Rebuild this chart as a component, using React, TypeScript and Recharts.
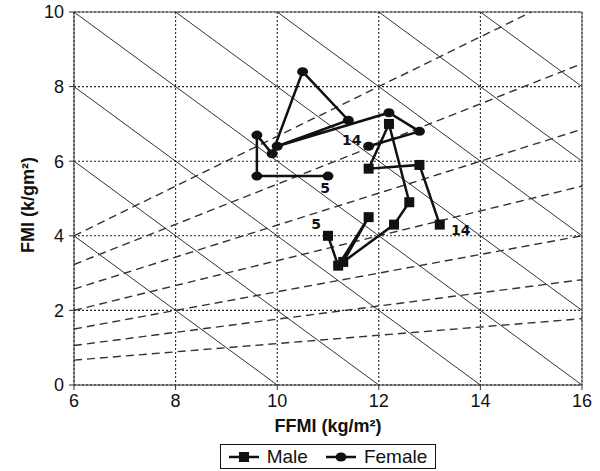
import {
  ScatterChart,
  Scatter,
  XAxis,
  YAxis,
  CartesianGrid,
  ReferenceLine,
} from "recharts";

// ages 5..14, one point per year
const ages = [5, 6, 7, 8, 9, 10, 11, 12, 13, 14];
const maleFFMI = [11.0, 11.2, 11.8, 11.3, 12.3, 12.6, 12.2, 11.8, 12.8, 13.2];
const maleFMI = [4.0, 3.2, 4.5, 3.3, 4.3, 4.9, 7.0, 5.8, 5.9, 4.3];
const femaleFFMI = [11.0, 9.6, 9.6, 9.9, 10.5, 11.4, 10.0, 12.2, 12.8, 11.8];
const femaleFMI = [5.6, 5.6, 6.7, 6.2, 8.4, 7.1, 6.4, 7.3, 6.8, 6.4];

const xTicks = [6, 8, 10, 12, 14, 16];
const yTicks = [0, 2, 4, 6, 8, 10];

// iso-BMI lines (solid) and iso-body-fat % lines (dashed)
const bmiLevels = [10, 12, 14, 16, 18, 20, 22, 24];
const fatPercents = [10, 15, 20, 25, 30, 35, 40];

const FONT = "'Liberation Sans', Arial, sans-serif";
const INK = "#111";

const toPoints = (xs: number[], ys: number[]) =>
  xs.map((x, i) => ({ x, y: ys[i], age: ages[i] }));

const malePoints = toPoints(maleFFMI, maleFMI);
const femalePoints = toPoints(femaleFFMI, femaleFMI);

function bmiSegment(b: number) {
  const start = b - 6 <= 10 ? { x: 6, y: b - 6 } : { x: b - 10, y: 10 };
  const end = b <= 16 ? { x: b, y: 0 } : { x: 16, y: b - 16 };
  return [start, end];
}

function fatSegment(p: number) {
  const k = p / (100 - p);
  const end = 16 * k <= 10 ? { x: 16, y: 16 * k } : { x: 10 / k, y: 10 };
  return [{ x: 6, y: 6 * k }, end];
}

const labelOffset: Record<string, Record<number, [number, number]>> = {
  Male: { 5: [-12, -12], 14: [21, 5] },
  Female: { 5: [-3, 12], 14: [-17, -6] },
};

const makeShape = (kind: "square" | "circle", name: string) => (props: any) => {
  const { cx, cy, payload } = props;
  const off = labelOffset[name][payload?.age];
  return (
    <g>
      {kind === "square" ? (
        <rect x={cx - 5} y={cy - 5} width={10} height={10} fill={INK} />
      ) : (
        <ellipse cx={cx} cy={cy} rx={5.5} ry={4.5} fill={INK} />
      )}
      {off && (
        <text
          x={cx + off[0]}
          y={cy + off[1]}
          textAnchor="middle"
          dominantBaseline="central"
          fontSize={14}
          fontWeight="bold"
          fontFamily="'DejaVu Sans', sans-serif"
          fill={INK}
        >
          {payload.age}
        </text>
      )}
    </g>
  );
};

const LegendIcon = ({ kind }: { kind: "square" | "circle" }) => (
  <svg width={30} height={12} style={{ display: "block" }}>
    <line x1={0} y1={6} x2={30} y2={6} stroke={INK} strokeWidth={2.5} />
    {kind === "square" ? (
      <rect x={10} y={1} width={10} height={10} fill={INK} />
    ) : (
      <ellipse cx={15} cy={6} rx={5.5} ry={4.5} fill={INK} />
    )}
  </svg>
);

export default function App() {
  return (
    <div style={{ position: "relative", width: 600, height: 471, background: "#fff" }}>
      <style>{"body{margin:0}"}</style>
      <ScatterChart
        width={600}
        height={471}
        margin={{ top: 12, right: 18, bottom: 38, left: 0 }}
      >
        <CartesianGrid stroke="#222" strokeDasharray="2 2" strokeWidth={1.1} />
        <XAxis
          type="number"
          dataKey="x"
          domain={[6, 16]}
          ticks={xTicks}
          allowDataOverflow
          height={48}
          stroke="#333"
          tickSize={5}
          tickMargin={4}
          tick={{ fill: INK, fontSize: 18, fontFamily: FONT }}
          label={{
            value: "FFMI (kg/m²)",
            position: "insideBottom",
            offset: 1,
            fill: INK,
            fontSize: 18,
            fontWeight: "bold",
            fontFamily: FONT,
          }}
        />
        <YAxis
          type="number"
          dataKey="y"
          domain={[0, 10]}
          ticks={yTicks}
          allowDataOverflow
          width={74}
          stroke="#333"
          tickSize={5}
          tickMargin={5}
          tick={{ fill: INK, fontSize: 18, fontFamily: FONT }}
          label={{
            content: () => (
              <text
                x={28}
                y={205}
                transform="rotate(-90 28 205)"
                textAnchor="middle"
                dominantBaseline="central"
                fill={INK}
                fontSize={18}
                fontWeight="bold"
                fontFamily={FONT}
              >
                FMI (k/gm²)
              </text>
            ),
          }}
        />
        <ReferenceLine y={10} stroke="#555" strokeWidth={1} />
        <ReferenceLine x={16} stroke="#555" strokeWidth={1} />
        {bmiLevels.map((b) => (
          <ReferenceLine
            key={`bmi-${b}`}
            segment={bmiSegment(b)}
            stroke="#333"
            strokeWidth={1}
            ifOverflow="visible"
          />
        ))}
        {fatPercents.map((p) => (
          <ReferenceLine
            key={`fat-${p}`}
            segment={fatSegment(p)}
            stroke="#333"
            strokeWidth={1.4}
            strokeDasharray="8 5"
            ifOverflow="visible"
          />
        ))}
        <Scatter
          name="Male"
          data={malePoints}
          line={{ stroke: INK, strokeWidth: 2.5 }}
          shape={makeShape("square", "Male")}
          isAnimationActive={false}
        />
        <Scatter
          name="Female"
          data={femalePoints}
          line={{ stroke: INK, strokeWidth: 2.5 }}
          shape={makeShape("circle", "Female")}
          isAnimationActive={false}
        />
      </ScatterChart>
      <div
        style={{
          position: "absolute",
          left: 220,
          top: 444,
          width: 214,
          height: 23,
          border: "1px solid #111",
          display: "flex",
          alignItems: "center",
          justifyContent: "center",
          fontFamily: FONT,
          fontSize: 19,
          color: INK,
        }}
      >
        <LegendIcon kind="square" />
        <span style={{ marginLeft: 8, marginRight: 18 }}>Male</span>
        <LegendIcon kind="circle" />
        <span style={{ marginLeft: 8 }}>Female</span>
      </div>
    </div>
  );
}
